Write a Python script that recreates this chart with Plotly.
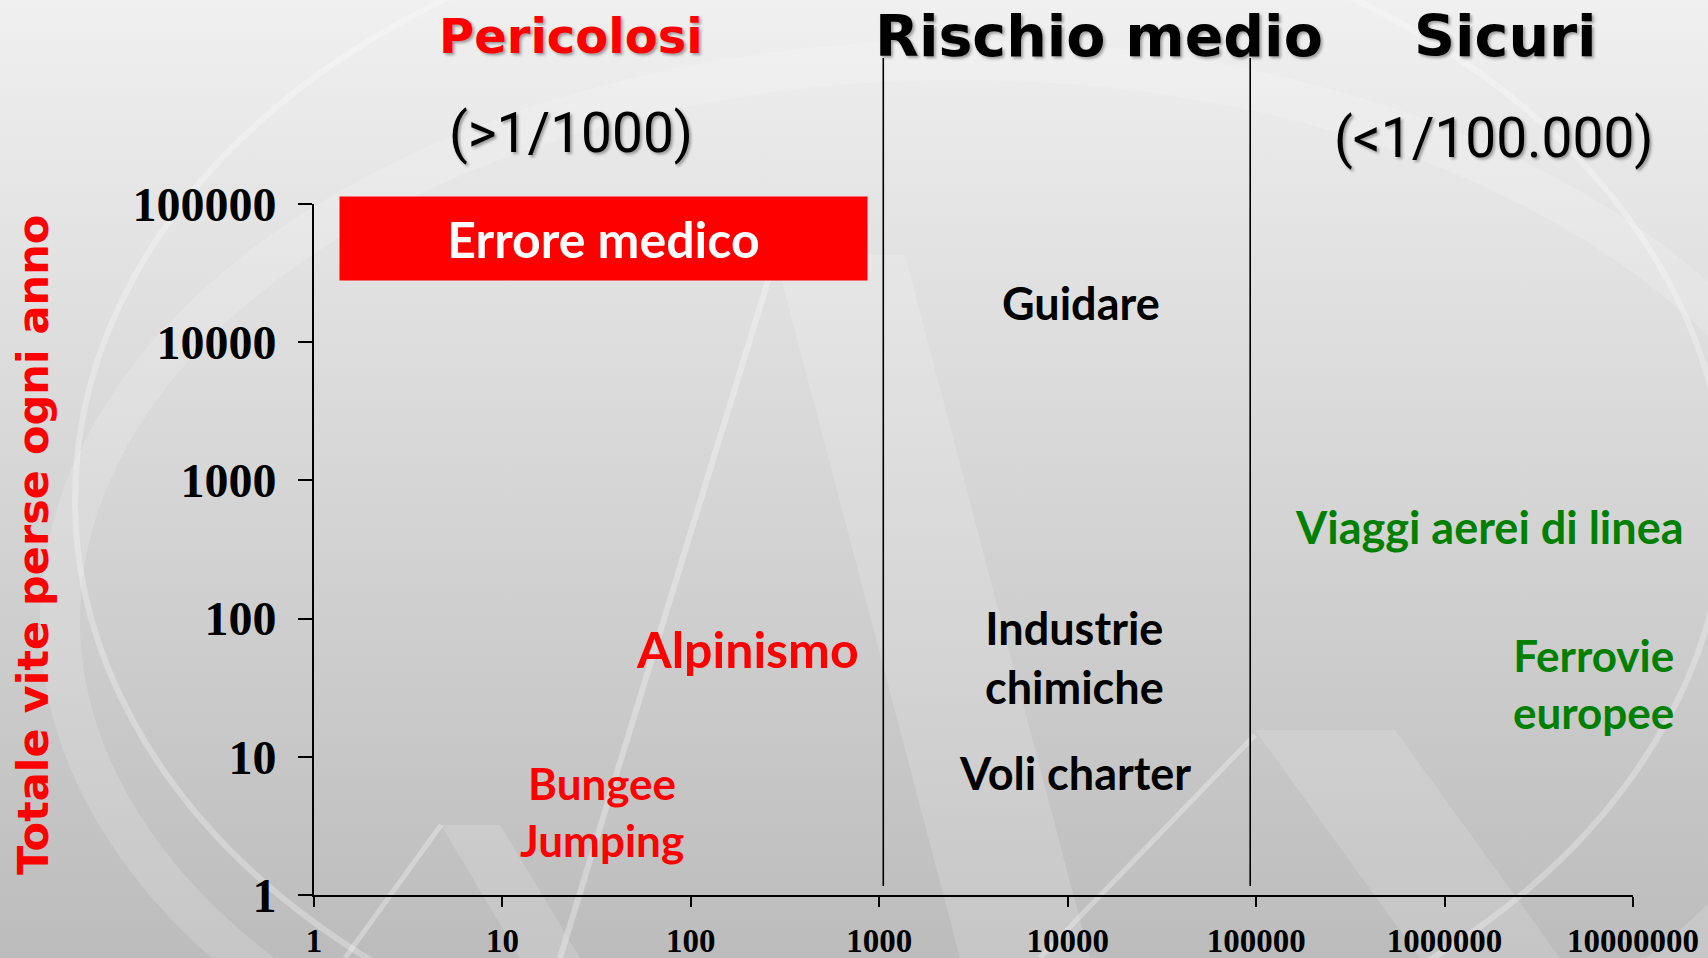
import base64
import numpy as np
import plotly.graph_objects as go

# ---------------- data ----------------
x_tick_vals = [1, 10, 100, 1000, 10000, 100000, 1000000, 10000000]
x_tick_text = ["1", "10", "100", "1000", "10000", "100000", "1000000", "10000000"]
y_tick_vals = [1, 10, 100, 1000, 10000, 100000]
y_tick_text = ["1", "10", "100", "1000", "10000", "100000"]

# zone boundaries (1 death every N)
zone_bounds = [1050, 93000]

# activity labels
act_labels = ["Guidare", "Industrie<br>chimiche", "Voli charter", "Alpinismo",
              "Bungee<br>Jumping", "Viaggi aerei di linea", "Ferrovie<br>europee"]
act_x = [11700, 10800, 10900, 201, 33.8, 1.74e6, 6.2e6]
act_y = [19200, 52, 7.6, 60, 4.05, 460, 34]
act_color = ["black", "black", "black", "#ff0000", "#ff0000", "#008000", "#008000"]
act_size = [45, 45, 45, 50, 44, 45, 44]

# highlighted item
hl_label = "Errore medico"
hl_x = 34.4
hl_y = 56200

# zone headers
zone_titles = ["Pericolosi", "Rischio medio", "Sicuri"]
zone_title_x = [23, 14700, 2.1e6]
zone_title_color = ["#ff0000", "black", "black"]
zone_title_size = [48, 57, 57]
zone_sub = ["(>1/1000)", "(<1/100.000)"]
zone_sub_x = [23, 1.83e6]

y_title = "Totale vite perse ogni anno"

# ---------------- background (svg) ----------------
W, H = 1708, 958
svg = f"""<svg xmlns='http://www.w3.org/2000/svg' width='{W}' height='{H}' viewBox='0 0 {W} {H}'>
<defs><linearGradient id='g' x1='0' y1='0' x2='0' y2='1'>
<stop offset='0' stop-color='#f0f0f0'/><stop offset='1' stop-color='#bcbcbc'/></linearGradient></defs>
<rect width='{W}' height='{H}' fill='url(#g)'/>
<ellipse cx='900' cy='500' rx='825' ry='600' fill='none' stroke='white' stroke-opacity='0.28' stroke-width='6'/>
<ellipse cx='960' cy='620' rx='900' ry='560' fill='none' stroke='white' stroke-opacity='0.16' stroke-width='40'/>
<polygon points='775,255 905,255 1090,958 960,958' fill='white' fill-opacity='0.16'/>
<line x1='560' y1='958' x2='775' y2='258' stroke='white' stroke-opacity='0.3' stroke-width='6'/>
<polygon points='441,825 500,825 580,958 520,958' fill='white' fill-opacity='0.15'/>
<line x1='345' y1='958' x2='441' y2='825' stroke='white' stroke-opacity='0.3' stroke-width='5'/>
<polygon points='1255,730 1395,730 1560,958 1420,958' fill='white' fill-opacity='0.14'/>
<line x1='1040' y1='958' x2='1255' y2='735' stroke='white' stroke-opacity='0.3' stroke-width='5'/>
</svg>"""
bg_uri = "data:image/svg+xml;base64," + base64.b64encode(svg.encode()).decode()

L, R, T, B = 314, 75, 204, 63
pw, ph = W - L - R, H - T - B

fig = go.Figure()
# invisible trace to establish axes
fig.add_trace(go.Scatter(x=[1, 1e7], y=[1, 1e5], mode="markers",
                         marker=dict(opacity=0), hoverinfo="skip", showlegend=False))

fig.add_layout_image(dict(source=bg_uri, xref="paper", yref="paper",
                          x=-L / pw, y=1 + T / ph, sizex=W / pw, sizey=H / ph,
                          sizing="stretch", xanchor="left", yanchor="top", layer="below"))

shadow = "2px 2px 3px rgba(0,0,0,0.35)"
ann = []
for lab, x, y, c, s in zip(act_labels, act_x, act_y, act_color, act_size):
    ann.append(dict(text=f"<b>{lab}</b>", x=np.log10(x), y=np.log10(y), xref="x", yref="y",
                    showarrow=False, xanchor="center", yanchor="middle",
                    font=dict(family="Lato", size=s, color=c)))

ann.append(dict(text=f"<b>{hl_label}</b>", x=np.log10(hl_x), y=np.log10(hl_y), xref="x", yref="y",
                showarrow=False, bgcolor="#ff0000", width=527, height=83, borderpad=0,
                xanchor="center", yanchor="middle",
                font=dict(family="Lato", size=50, color="white")))

for t, x, c, s in zip(zone_titles, zone_title_x, zone_title_color, zone_title_size):
    ann.append(dict(text=f"<b>{t}</b>", x=np.log10(x), y=(ph + T - 36) / ph,
                    xref="x", yref="paper", showarrow=False, xanchor="center", yanchor="middle",
                    font=dict(family="DejaVu Sans", size=s, color=c, shadow=shadow)))

for t, x, py in zip(zone_sub, zone_sub_x, [133, 138]):
    ann.append(dict(text=t, x=np.log10(x), y=(ph + T - py) / ph, xref="x", yref="paper",
                    showarrow=False, xanchor="center", yanchor="middle",
                    font=dict(family="Roboto", size=55, color="black", shadow=shadow)))

ann.append(dict(text=f"<b>{y_title}</b>", x=(33 - L) / pw, y=(ph + T - 545) / ph,
                xref="paper", yref="paper", showarrow=False, textangle=-90,
                xanchor="center", yanchor="middle",
                font=dict(family="DejaVu Sans", size=43, color="#ff0000")))

shapes = []
for xb in zone_bounds:
    shapes.append(dict(type="line", xref="x", yref="paper", x0=xb, x1=xb,
                       y0=(ph + T - 886) / ph, y1=(ph + T - 58) / ph,
                       line=dict(color="black", width=1.6)))

fig.update_layout(
    width=W, height=H, autosize=False,
    margin=dict(l=L, r=R, t=T, b=B, autoexpand=False),
    paper_bgcolor="#d6d6d6", plot_bgcolor="rgba(0,0,0,0)",
    showlegend=False,
    annotations=ann, shapes=shapes,
    xaxis=dict(type="log", range=[0, 7], tickvals=x_tick_vals, ticktext=x_tick_text,
               automargin=False,
               showgrid=False, zeroline=False, showline=True, linecolor="black", linewidth=2,
               ticks="outside", ticklen=10, tickwidth=2, tickcolor="black",
               tickfont=dict(family="Liberation Serif", size=33, color="black", weight="bold"),
               ticklabelstandoff=5),
    yaxis=dict(type="log", range=[0, 5], tickvals=y_tick_vals, ticktext=y_tick_text,
               automargin=False,
               showgrid=False, zeroline=False, showline=True, linecolor="black", linewidth=2,
               ticks="outside", ticklen=14, tickwidth=2, tickcolor="black",
               tickfont=dict(family="Liberation Serif", size=48, color="black", weight="bold"),
               ticklabelstandoff=12),
)

fig.write_html("out.html", config={"displayModeBar": False},
               post_script="document.body.style.margin='0px';document.body.style.overflow='hidden';")
